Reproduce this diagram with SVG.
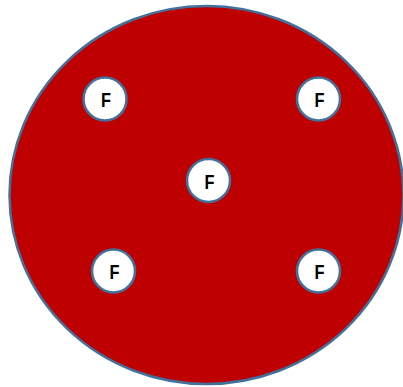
<svg xmlns="http://www.w3.org/2000/svg" width="403" height="387" viewBox="0 0 403 387">
<style>
.big{fill:#BE0000;stroke:#41719C;stroke-width:2.5}
.n circle{fill:#FFFFFF;stroke:#41719C;stroke-width:2.5}
.n text{font-family:"Liberation Sans",Arial,sans-serif;font-weight:bold;font-size:21px;fill:#000000;text-anchor:middle}
</style>
<g id="plate"><ellipse class="big" cx="206.5" cy="195" rx="197" ry="189"/></g>
<g id="connectors"/>
<g id="f1" class="n"><circle cx="105" cy="99" r="21.5"/><text x="106" y="107" textLength="10" lengthAdjust="spacingAndGlyphs">F</text></g>
<g id="f2" class="n"><circle cx="318.5" cy="99" r="21.5"/><text x="319.5" y="107" textLength="10" lengthAdjust="spacingAndGlyphs">F</text></g>
<g id="f3" class="n"><circle cx="208.5" cy="180.5" r="21.5"/><text x="209.5" y="188.5" textLength="10" lengthAdjust="spacingAndGlyphs">F</text></g>
<g id="f4" class="n"><circle cx="113.5" cy="271" r="21.5"/><text x="114.5" y="279" textLength="10" lengthAdjust="spacingAndGlyphs">F</text></g>
<g id="f5" class="n"><circle cx="318.5" cy="271" r="21.5"/><text x="319.5" y="279" textLength="10" lengthAdjust="spacingAndGlyphs">F</text></g>
</svg>
